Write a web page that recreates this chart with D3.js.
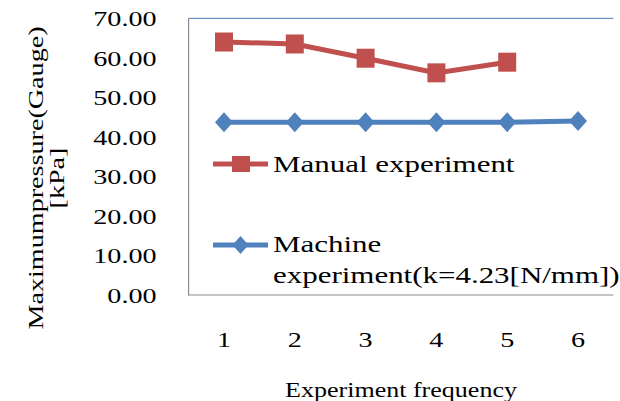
<!DOCTYPE html>
<html>
<head>
<meta charset="utf-8">
<script src="https://cdn.jsdelivr.net/npm/d3@7"></script>
<style>
  html, body { margin: 0; padding: 0; background: #fff; }
  svg { display: block; }
</style>
</head>
<body>
<svg id="chart" width="620" height="401"></svg>
<script>
// Experiment runs and measured peak gauge pressure [kPa]
const categories = ["1", "2", "3", "4", "5", "6"];
const manualValues = [64.0, 63.5, 59.9, 56.2, 58.9];
const machineValues = [43.7, 43.7, 43.7, 43.7, 43.7, 44.0];
const yTicks = [0, 10, 20, 30, 40, 50, 60, 70];

const seriesNames = ["Manual experiment", "Machine", "experiment(k=4.23[N/mm])"];
const yTitle = ["Maximumpressure(Gauge)", "[kPa]"];
const xTitle = "Experiment frequency";

const RED = "#C0504D", BLUE = "#4F81BD";
const FONT = '"Liberation Serif"';
const WIDE = 1.28; // horizontal stretch for the wide serif face

const svg = d3.select("#chart");
const plot = { left: 188.6, right: 613.4, top: 18.3, bottom: 295 };

const x = d3.scaleBand().domain(categories).range([plot.left, plot.right]).padding(0);
const cx = c => x(c) + x.bandwidth() / 2;
const y = d3.scaleLinear().domain([0, 70]).range([plot.bottom, plot.top]);

// Plot frame: blue top edge, grey left and bottom edges
svg.append("line").attr("x1", plot.left).attr("x2", plot.right)
  .attr("y1", plot.top).attr("y2", plot.top)
  .attr("stroke", "#6a96cc").attr("stroke-width", 1.2);
svg.append("path")
  .attr("d", `M${plot.left},${plot.top}V${plot.bottom}H${plot.right}`)
  .attr("fill", "none").attr("stroke", "#8c8c8c").attr("stroke-width", 1.2);

// Y axis labels
const yAxis = svg.append("g")
  .attr("transform", `translate(${plot.left},0)`)
  .call(d3.axisLeft(y).tickValues(yTicks).tickSize(0).tickFormat(d3.format(".2f")));
yAxis.select(".domain").remove();
yAxis.selectAll("text")
  .attr("x", null).attr("dy", "0.34em")
  .attr("transform", `translate(-32,0) scale(${WIDE},1)`)
  .style("font-family", FONT).style("font-size", "22px").style("fill", "#000");

// X axis labels
const xAxis = svg.append("g")
  .attr("transform", `translate(0,${plot.bottom})`)
  .call(d3.axisBottom(x).tickSize(0));
xAxis.select(".domain").remove();
xAxis.selectAll("text")
  .attr("y", null).attr("dy", null)
  .attr("transform", `translate(0,51.5) scale(${WIDE},1)`)
  .style("font-family", FONT).style("font-size", "22px").style("fill", "#000");

// Helper for stretched text
function label(parent, tx, ty, str, size, anchor, k, rot) {
  const g = parent.append("g").attr("transform", `translate(${tx},${ty})` + (rot ? ` rotate(${rot})` : ""));
  g.append("text").attr("transform", `scale(${k},1)`)
    .attr("text-anchor", anchor)
    .style("font-family", FONT).style("font-size", size + "px").style("fill", "#000")
    .text(str);
  return g;
}

// Axis titles
label(svg, 401, 396.5, xTitle, 21, "middle", 1.24);
label(svg, 43, 178, yTitle[0], 22, "middle", WIDE, -90);
label(svg, 64, 178, yTitle[1], 22, "middle", WIDE, -90);

// Series lines
const line = d3.line().x(d => cx(d.c)).y(d => y(d.v));
const manual = manualValues.map((v, i) => ({ c: categories[i], v }));
const machine = machineValues.map((v, i) => ({ c: categories[i], v }));

svg.append("path").datum(machine).attr("d", line)
  .attr("fill", "none").attr("stroke", BLUE).attr("stroke-width", 5);
svg.append("path").datum(manual).attr("d", line)
  .attr("fill", "none").attr("stroke", RED).attr("stroke-width", 5);

// Markers
const diamond = (px, py, w, h) => `M${px},${py - h / 2}L${px + w / 2},${py}L${px},${py + h / 2}L${px - w / 2},${py}Z`;
svg.append("g").selectAll("path").data(machine).join("path")
  .attr("d", d => diamond(cx(d.c), y(d.v), 18, 20)).attr("fill", BLUE);
svg.append("g").selectAll("rect").data(manual).join("rect")
  .attr("x", d => cx(d.c) - 9).attr("y", d => y(d.v) - 9.5)
  .attr("width", 18).attr("height", 19).attr("fill", RED);

// Legend
const lg = svg.append("g");
lg.append("line").attr("x1", 213).attr("x2", 268).attr("y1", 164).attr("y2", 164)
  .attr("stroke", RED).attr("stroke-width", 5);
lg.append("rect").attr("x", 232).attr("y", 156).attr("width", 18).attr("height", 16).attr("fill", RED);
label(lg, 273, 171.5, seriesNames[0], 24, "start", 1.29);

lg.append("line").attr("x1", 213).attr("x2", 268).attr("y1", 245).attr("y2", 245)
  .attr("stroke", BLUE).attr("stroke-width", 5);
lg.append("path").attr("d", diamond(240.5, 245, 16, 18)).attr("fill", BLUE);
label(lg, 273, 251.7, seriesNames[1], 24, "start", 1.29);
label(lg, 273, 283.3, seriesNames[2], 24, "start", 1.29);
</script>
</body>
</html>
